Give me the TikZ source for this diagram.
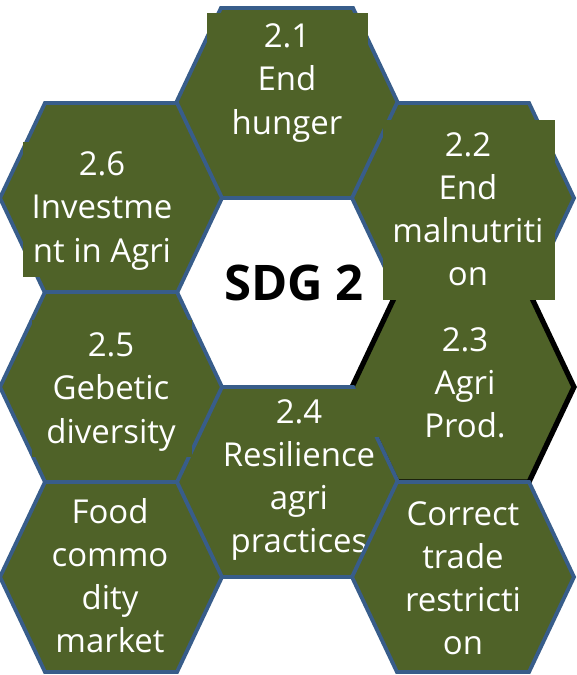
\documentclass[tikz,border=0pt]{standalone}
\usepackage{fontspec}
\setmainfont{Open Sans}
\usepackage{tikz}

\definecolor{hexgreen}{RGB}{79,98,40}
\definecolor{hexblue}{RGB}{56,93,138}

\begin{document}
\begin{tikzpicture}[x=0.75pt, y=-0.75pt,
		hex_style/.style={fill=hexgreen,draw=hexblue,line width=2.9pt},
		hex_black_style/.style={hex_style,draw=black,line width=3.9pt},
		box_style/.style={fill=hexgreen,draw=none},
		label_style/.style={text=white,align=center,inner sep=0pt,font=\fontsize{24.7}{32.3}\selectfont},
		hex_pic/.pic={\path[pic actions] (-111,0) -- (-66,-95) -- (66,-95) -- (111,0) -- (66,95) -- (-66,95) -- cycle;}]
		
		\useasboundingbox (0,0) rectangle (577,675);
		
		% top
		\pic[hex_style] (h21) at (287,103) {hex_pic};
		\path[box_style] (207,13) rectangle (368,145);
		\node[label_style] (t21) at (287,83) {2.1\\End\\hunger};
		
		% left, upper
		\pic[hex_style] (h26) at (111,198) {hex_pic};
		\path[box_style] (23,142) rectangle (178,277);
		\node[label_style] (t26) at (102,211) {2.6\\Investme\\nt in Agri};
		
		% right
		\pic[hex_black_style] (h23) at (463,387) {hex_pic};
		\node[label_style] (t23) at (465,383) {2.3\\Agri\\Prod.};
		\pic[hex_style] (h22) at (463,198) {hex_pic};
		\path[box_style] (383,120) rectangle (555,300);
		\node[label_style] (t22) at (468,209) {2.2\\End\\malnutriti\\on};
		
		% bottom
		\pic[hex_style] (h24) at (287,482) {hex_pic};
		\path[box_style] (220,389) rectangle (381,437);
		\node[label_style] (t24) at (299,480) {2.4\\Resilience\\agri\\practices};
		
		% left, middle
		\pic[hex_style] (h25) at (111,387) {hex_pic};
		\path[box_style] (32,320) rectangle (192,457);
		\node[label_style] (t25) at (111,392) {2.5\\Gebetic\\diversity};
		
		% lowest row
		\pic[hex_style] (hfood) at (111,577) {hex_pic};
		\node[label_style] (tfood) at (110,576) {Food\\commo\\dity\\market};
		\pic[hex_style] (htrade) at (463,577) {hex_pic};
		\node[label_style] (ttrade) at (463,578) {Correct\\trade\\restricti\\on};
		
		\node[font=\bfseries\fontsize{36.8}{44}\selectfont] (sdg) at (294,283) {SDG 2};
		
		\end{tikzpicture}
\end{document}
